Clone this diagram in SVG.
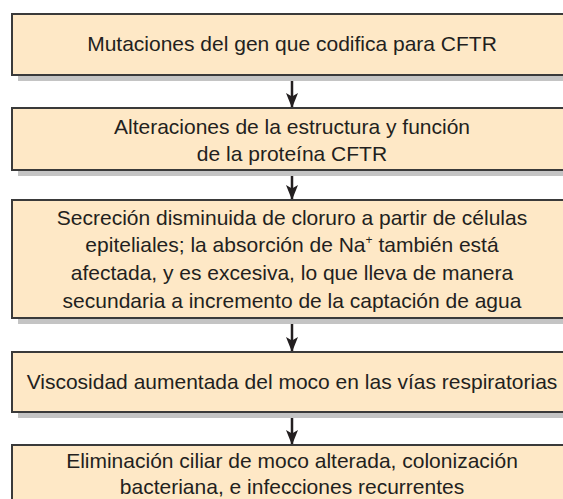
<svg xmlns="http://www.w3.org/2000/svg" width="563" height="499" viewBox="0 0 563 499">
<defs>
<style>
.box{fill:#FEE8C6;stroke:#3a3a3a;stroke-width:2}
.sh{fill:#C4C4C4}
.t{font-family:"Liberation Sans",Arial,sans-serif;font-size:21px;fill:#231f20;text-anchor:middle}
.c{stroke:#231f20;stroke-width:2.5;fill:none}
</style>
<marker id="ah" markerWidth="15" markerHeight="12" refX="14" refY="6" orient="auto" markerUnits="userSpaceOnUse" viewBox="0 0 15 12">
<path d="M0,0 L15,6 L0,12 L3.5,6 Z" fill="#231f20"/>
</marker>
</defs>
<rect width="563" height="499" fill="#fff"/>
<g id="connectors">
<line class="c" x1="292" y1="76" x2="292" y2="107" marker-end="url(#ah)"/>
<line class="c" x1="292" y1="171" x2="292" y2="199" marker-end="url(#ah)"/>
<line class="c" x1="292" y1="319" x2="292" y2="351" marker-end="url(#ah)"/>
<line class="c" x1="292" y1="413" x2="292" y2="444" marker-end="url(#ah)"/>
</g>
<g id="n1">
<rect class="sh" x="18" y="20" width="560" height="61"/>
<rect class="box" x="12" y="14" width="570" height="61"/>
<text class="t" x="292" y="51">Mutaciones del gen que codifica para CFTR</text>
</g>
<g id="n2">
<rect class="sh" x="18" y="114" width="560" height="62"/>
<rect class="box" x="12" y="108" width="570" height="62"/>
<text class="t" x="292" y="134">Alteraciones de la estructura y función</text>
<text class="t" x="292" y="161">de la proteína CFTR</text>
</g>
<g id="n3">
<rect class="sh" x="18" y="206" width="560" height="118"/>
<rect class="box" x="12" y="200" width="570" height="118"/>
<text class="t" x="292" y="225">Secreción disminuida de cloruro a partir de células</text>
<text class="t" x="292" y="252">epiteliales; la absorción de Na<tspan font-size="12" dy="-8">+</tspan><tspan dy="8"> también está</tspan></text>
<text class="t" x="292" y="280">afectada, y es excesiva, lo que lleva de manera</text>
<text class="t" x="292" y="308">secundaria a incremento de la captación de agua</text>
</g>
<g id="n4">
<rect class="sh" x="18" y="358" width="560" height="60"/>
<rect class="box" x="12" y="352" width="570" height="60"/>
<text class="t" x="292" y="389">Viscosidad aumentada del moco en las vías respiratorias</text>
</g>
<g id="n5">
<rect class="box" x="12" y="445" width="570" height="80"/>
<text class="t" x="292" y="468">Eliminación ciliar de moco alterada, colonización</text>
<text class="t" x="292" y="494">bacteriana, e infecciones recurrentes</text>
</g>
</svg>
